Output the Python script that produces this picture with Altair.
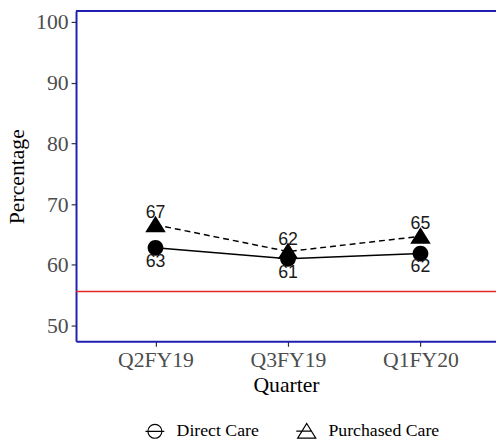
import altair as alt
import pandas as pd

quarters = ["Q2FY19", "Q3FY19", "Q1FY20"]
series = ["Direct Care", "Purchased Care"]
direct_vals = [62.8, 61.0, 61.85]
direct_labels = ["63", "61", "62"]
purchased_vals = [66.6, 62.2, 64.7]
purchased_labels = ["67", "62", "65"]
benchmark = 55.6

rows = []
for i, q in enumerate(quarters):
    rows.append({"idx": i, "quarter": q, "series": series[0], "value": direct_vals[i], "label": direct_labels[i]})
    rows.append({"idx": i, "quarter": q, "series": series[1], "value": purchased_vals[i], "label": purchased_labels[i]})
df = pd.DataFrame(rows)
ref_df = pd.DataFrame({"y": [benchmark]})

label_expr = "[" + ",".join(f"'{q}'" for q in quarters) + "][datum.value]"

BLUE = "#1f1fb0"
SERIF = "Liberation Serif"

x_enc = alt.X("idx:Q", scale=alt.Scale(domain=[-0.6, 2.57], nice=False, zero=False),
              axis=alt.Axis(values=[0, 1, 2], labelExpr=label_expr, title="Quarter",
                            grid=False, domainColor=BLUE, domainWidth=2,
                            tickColor="#333333", tickSize=5, tickWidth=1.2,
                            labelFont=SERIF, labelFontSize=22, labelColor="#4d4d4d",
                            labelPadding=4, titleFont=SERIF, titleFontSize=22,
                            titleFontWeight="normal", titleColor="black", titlePadding=4))
y_enc = alt.Y("value:Q", scale=alt.Scale(domain=[47.4, 101.8], nice=False, zero=False),
              axis=alt.Axis(values=[50, 60, 70, 80, 90, 100], title="Percentage",
                            grid=False, domainColor=BLUE, domainWidth=2,
                            tickColor="#333333", tickSize=5, tickWidth=1.2,
                            labelFont=SERIF, labelFontSize=22, labelColor="#4d4d4d",
                            labelPadding=3, titleFont=SERIF, titleFontSize=22,
                            titleFontWeight="normal", titleColor="black", titlePadding=7))

base = alt.Chart(df)

line_d = base.transform_filter(alt.datum.series == series[0]).mark_line(
    color="black", strokeWidth=1.5).encode(x=x_enc, y=y_enc)
line_p = base.transform_filter(alt.datum.series == series[1]).mark_line(
    color="black", strokeWidth=1.5, strokeDash=[6, 4]).encode(x="idx:Q", y="value:Q")

circle_path = "M-1,0A1,1,0,1,1,1,0A1,1,0,1,1,-1,0Z M-1.35,0L1.35,0"
tri_path = "M0,-1.15L1.3,0.95L-1.3,0.95Z M-1.5,-0.05L0.65,-0.05"
shape_scale = alt.Scale(domain=series, range=[circle_path, tri_path])

points = base.mark_point(filled=True, color="black", opacity=1, size=256).encode(
    x="idx:Q", y="value:Q",
    shape=alt.Shape("series:N", scale=shape_scale, legend=None),
)

# hidden helper layer that only supplies the outlined legend symbols
legend_layer = base.mark_point(filled=False, color="black", opacity=1, strokeWidth=1.2,
                               size=200, clip=True).encode(
    x=alt.value(-100), y=alt.value(-100),
    shape=alt.Shape("series:N", scale=shape_scale, title=None,
                    legend=alt.Legend(orient="none", direction="horizontal",
                                      legendX=71, legendY=417,
                                      symbolSize=200, symbolStrokeWidth=1.2,
                                      labelFont=SERIF, labelFontSize=18, labelColor="black",
                                      labelOffset=13, columnPadding=34, padding=0)),
)

labels_d = base.transform_filter(alt.datum.series == series[0]).mark_text(
    dy=14, font="Liberation Sans", fontSize=18, color="#1a1a1a").encode(
    x="idx:Q", y="value:Q", text="label:N")
labels_p = base.transform_filter(alt.datum.series == series[1]).mark_text(
    dy=-12, font="Liberation Sans", fontSize=18, color="#1a1a1a").encode(
    x="idx:Q", y="value:Q", text="label:N")

rule = alt.Chart(ref_df).mark_rule(color="#e8292b", strokeWidth=1.5).encode(y="y:Q")

top_border = alt.Chart(ref_df).mark_rule(color=BLUE, strokeWidth=2).encode(
    y=alt.value(0), x=alt.value(0), x2=alt.value(430))

chart = alt.layer(rule, line_d, line_p, points, legend_layer, labels_d, labels_p, top_border).resolve_scale(
    shape="independent"
).properties(
    width=426, height=335,
    autosize=alt.AutoSizeParams(type="none"),
    padding={"left": 69, "top": 0, "right": 0, "bottom": 100},
).configure_view(stroke=None)

chart.save("out.html", embed_options={"renderer": "svg", "actions": False})
